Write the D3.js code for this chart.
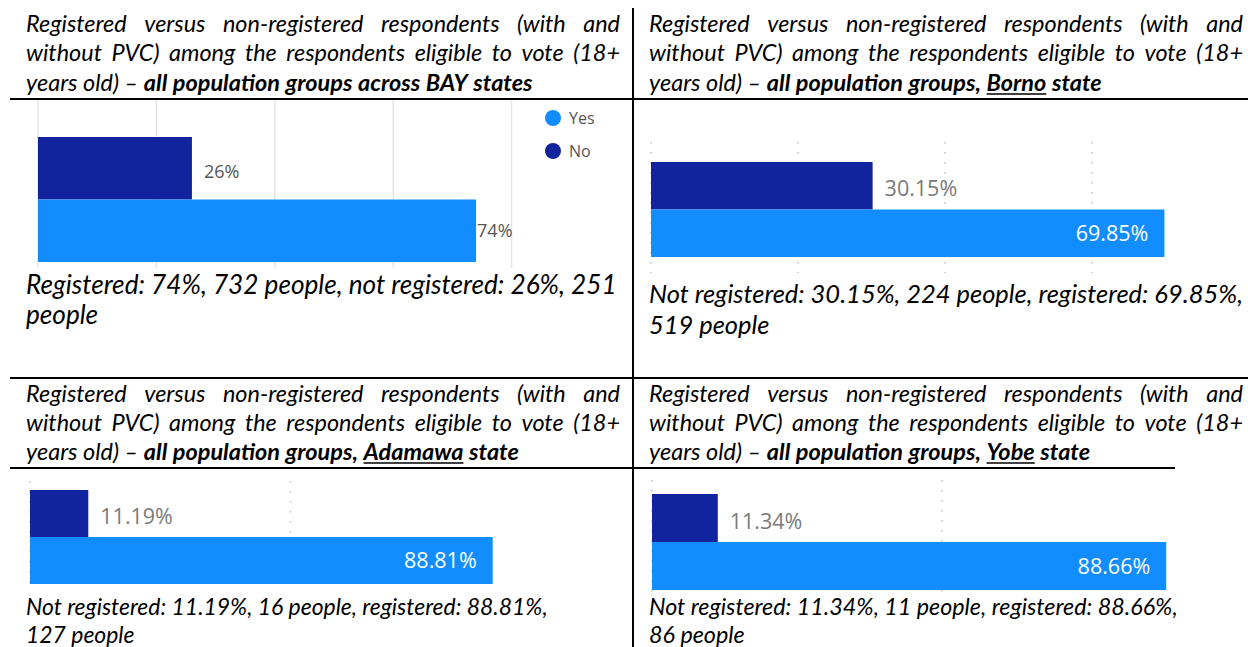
<!DOCTYPE html>
<html>
<head>
<meta charset="utf-8">
<script src="https://cdn.jsdelivr.net/npm/d3@7"></script>
<style>
  body { margin: 0; background: #fff; }
</style>
</head>
<body>
<script>
// values
var panels = ["across BAY states", "Borno", "Adamawa", "Yobe"];
var yesPct = [74, 69.85, 88.81, 88.66];
var noPct = [26, 30.15, 11.19, 11.34];
var yesPeople = [732, 519, 127, 86];
var noPeople = [251, 224, 16, 11];
var legendLabels = ["Yes", "No"];
var gridTicks = [[0, 20, 40, 60, 80], [0, 20, 40, 60], [0, 50], [0, 50]];

var headLine1 = "Registered versus non-registered respondents (with and";
var headLine2 = "without PVC) among the respondents eligible to vote (18+";

var w = 1248;
var h = 647;
var darkBlue = "#12239E";
var lightBlue = "#118DFF";
var textFont = "Lato, 'Open Sans', sans-serif";
var labelFont = "'Segoe UI', 'Open Sans', sans-serif";

var svg = d3.select("body")
  .append("svg")
  .attr("width", w)
  .attr("height", h);

// where each table cell puts its header, chart and caption
var cells = [
  {tx: 26, hy: [32, 61, 91], x0: 38, x100: 630, barTop: 137, barBot: 262, gTop: 100, gBot: 268, solid: true, capY: [294, 324], capW: 591, big: false},
  {tx: 649, hy: [32, 61, 91], x0: 651, x100: 1386, barTop: 162, barBot: 257, gTop: 142, gBot: 273, capY: [303, 334], capW: 594, big: true},
  {tx: 26, hy: [402, 431, 460], x0: 30, x100: 551, barTop: 490, barBot: 584, gTop: 481, gBot: 589, capY: [615, 643], capW: 522, big: true},
  {tx: 649, hy: [402, 431, 460], x0: 652, x100: 1232, barTop: 494, barBot: 590, gTop: 480, gBot: 593, capY: [615, 643], capW: 529, big: true}
];
var textW = 594;

// split segments into words, lay them out (justified or not)
function drawLine(g, segs, x, y, width, justify, size) {
  var words = [];
  segs.forEach(function(s) {
    s.t.split(" ").forEach(function(t) { words.push({t: t, b: s.b, u: s.u}); });
  });
  var nodes = words.map(function(d) {
    return g.append("text")
      .attr("y", y)
      .attr("font-size", size)
      .attr("font-style", "italic")
      .attr("font-weight", d.b ? 700 : 400)
      .attr("fill", "#000")
      .text(d.t);
  });
  var ws = nodes.map(function(n) { return n.node().getComputedTextLength(); });
  var gap = justify ? (width - d3.sum(ws)) / (words.length - 1) : size * 0.24;
  var cx = x;
  nodes.forEach(function(n, i) {
    n.attr("x", cx);
    if (words[i].u) {
      g.append("line")
        .attr("x1", cx).attr("x2", cx + ws[i])
        .attr("y1", y + 3).attr("y2", y + 3)
        .attr("stroke", "#000").attr("stroke-width", 1.6);
    }
    cx += ws[i] + gap;
  });
  return cx - gap - x;
}

function line3Segs(i) {
  if (i == 0) {
    return [{t: "years old) \u2013"}, {t: "all population groups " + panels[0], b: true}];
  }
  return [{t: "years old) \u2013"}, {t: "all population groups,", b: true}, {t: panels[i], b: true, u: true}, {t: "state", b: true}];
}

// find a header font size so the third line of panel 1 is as wide as in the picture
var probe = svg.append("g").attr("font-family", textFont);
var natural = drawLine(probe, line3Segs(0), 0, -100, 0, false, 20);
probe.remove();
var headSize = 20 * 507 / natural;

cells.forEach(function(c, i) {
  var g = svg.append("g").attr("font-family", textFont);

  // header
  drawLine(g, [{t: headLine1}], c.tx, c.hy[0], textW, true, headSize);
  drawLine(g, [{t: headLine2}], c.tx, c.hy[1], textW, true, headSize);
  drawLine(g, line3Segs(i), c.tx, c.hy[2], 0, false, headSize);

  // chart
  var x = d3.scaleLinear().domain([0, 100]).range([c.x0, c.x100]);
  var y = d3.scaleBand().domain(["No", "Yes"]).range([c.barTop, c.barBot]).padding(0);
  var vals = {No: noPct[i], Yes: yesPct[i]};

  var chart = svg.append("g");
  chart.selectAll("line.grid")
    .data(gridTicks[i])
    .enter()
    .append("line")
    .attr("class", "grid")
    .attr("x1", function(d) { return x(d); })
    .attr("x2", function(d) { return x(d); })
    .attr("y1", c.gTop)
    .attr("y2", c.gBot)
    .attr("stroke", c.solid ? "#e6e6e6" : "#c4c4c4")
    .attr("stroke-width", c.solid ? 1.5 : 1.6)
    .attr("stroke-dasharray", c.solid ? null : "1.6,8.4");

  chart.selectAll("rect")
    .data(["No", "Yes"])
    .enter()
    .append("rect")
    .attr("x", x(0))
    .attr("y", function(d) { return y(d); })
    .attr("width", function(d) { return x(vals[d]) - x(0); })
    .attr("height", y.bandwidth())
    .attr("fill", function(d) { return d == "Yes" ? lightBlue : darkBlue; });

  var fmt = c.big ? d3.format(".2f") : d3.format(".0f");
  var lsize = c.big ? 21.5 : 18;
  chart.selectAll("text.val")
    .data(["No", "Yes"])
    .enter()
    .append("text")
    .attr("class", "val")
    .attr("font-family", labelFont)
    .attr("font-size", lsize)
    .attr("dy", "0.35em")
    .attr("y", function(d) { return y(d) + y.bandwidth() / 2 + (d == "No" ? 3 : 0); })
    .attr("x", function(d) {
      if (d == "Yes" && c.big) return x(vals[d]) - 16;
      return x(vals[d]) + (d == "No" ? 12 : 1);
    })
    .attr("text-anchor", function(d) { return d == "Yes" && c.big ? "end" : "start"; })
    .attr("fill", function(d) {
      if (d == "Yes" && c.big) return "#fff";
      return c.big ? "#7a7a7a" : "#555";
    })
    .text(function(d) { return fmt(vals[d]) + "%"; });

  // caption
  var cap1, cap2;
  if (i == 0) {
    cap1 = "Registered: " + yesPct[i] + "%, " + yesPeople[i] + " people, not registered: " + noPct[i] + "%, " + noPeople[i];
    cap2 = "people";
  } else {
    cap1 = "Not registered: " + fmt(noPct[i]) + "%, " + noPeople[i] + " people, registered: " + fmt(yesPct[i]) + "%,";
    cap2 = yesPeople[i] + " people";
  }
  var t1 = g.append("text")
    .attr("x", c.tx).attr("y", c.capY[0])
    .attr("font-size", 20).attr("font-style", "italic")
    .text(cap1);
  var capSize = 20 * c.capW / t1.node().getComputedTextLength();
  t1.attr("font-size", capSize);
  g.append("text")
    .attr("x", c.tx).attr("y", c.capY[1])
    .attr("font-size", capSize).attr("font-style", "italic")
    .text(cap2);
});

// legend, first panel only
var legend = svg.append("g").attr("font-family", labelFont);
legend.selectAll("circle")
  .data(legendLabels)
  .enter()
  .append("circle")
  .attr("cx", 553)
  .attr("cy", function(d, i) { return 118 + i * 33; })
  .attr("r", 8)
  .attr("fill", function(d) { return d == "Yes" ? lightBlue : darkBlue; });
legend.selectAll("text")
  .data(legendLabels)
  .enter()
  .append("text")
  .attr("x", 569)
  .attr("y", function(d, i) { return 118 + i * 33; })
  .attr("dy", "0.35em")
  .attr("font-size", 16)
  .attr("fill", "#555")
  .text(function(d) { return d; });

// table borders
var borders = [
  [633, 8, 633, 647],
  [10, 99, 1248, 99],
  [10, 378, 1248, 378],
  [10, 468, 633, 468],
  [633, 468, 1175, 468]
];
svg.selectAll("line.border")
  .data(borders)
  .enter()
  .append("line")
  .attr("class", "border")
  .attr("x1", function(d) { return d[0]; })
  .attr("y1", function(d) { return d[1]; })
  .attr("x2", function(d) { return d[2]; })
  .attr("y2", function(d) { return d[3]; })
  .attr("stroke", "#000")
  .attr("stroke-width", 2);
</script>
</body>
</html>
